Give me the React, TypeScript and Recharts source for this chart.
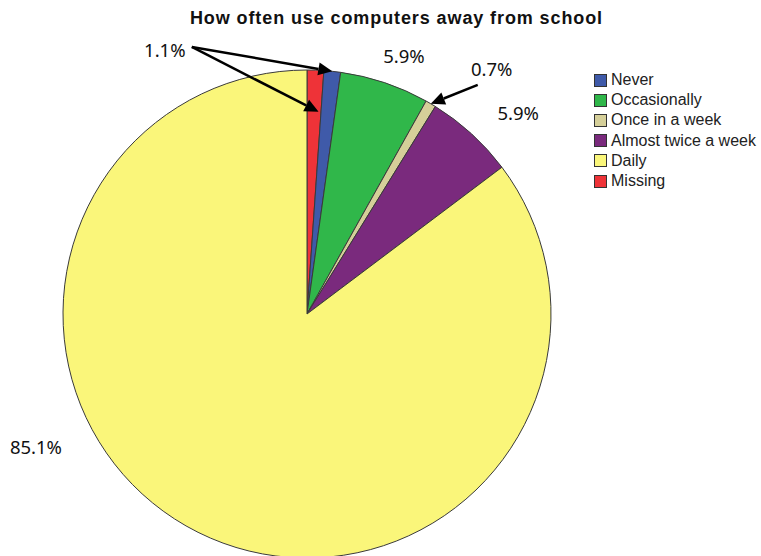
import { PieChart, Pie, Cell, Legend } from 'recharts';

const categories = ['Never', 'Occasionally', 'Once in a week', 'Almost twice a week', 'Daily', 'Missing'];
const percents = [1.1, 5.9, 0.7, 5.9, 85.1, 1.1];
const colors = ['#3f5aa9', '#30b74a', '#d5cf99', '#7a2a7d', '#faf67a', '#ee3338'];

// SPSS puts the Missing slice first at 12 o'clock, then goes clockwise
const pieOrder = [5, 0, 1, 2, 3, 4];

const pieData = pieOrder.map(i => ({ name: categories[i], value: percents[i], color: colors[i] }));

// where the percentage text sits: angle clockwise from top (deg), distance as fraction of radius
const labelSpots: Record<string, { angle: number; dist: number }> = {
  Missing: { angle: 331.7, dist: 1.229 },
  Occasionally: { angle: 20.6, dist: 1.13 },
  'Once in a week': { angle: 37, dist: 1.258 },
  'Almost twice a week': { angle: 46.3, dist: 1.197 },
  Daily: { angle: 243.9, dist: 1.237 },
};

// callout arrows: start next to a label's text, end on a slice
const arrows = [
  { label: 'Missing', to: 'Never', dx: 27, dy: -3, tip: 1.0, turn: 0 },
  { label: 'Missing', to: 'Missing', dx: 27, dy: -3, tip: 0.83, turn: 1.3 },
  { label: 'Once in a week', to: 'Once in a week', dx: -14, dy: 16, tip: 1.0, turn: 0 },
];

const polar = (cx: number, cy: number, r: number, deg: number) => {
  const a = (deg * Math.PI) / 180;
  return { x: cx + r * Math.sin(a), y: cy - r * Math.cos(a) };
};

function Arrow({ x1, y1, x2, y2 }: { x1: number; y1: number; x2: number; y2: number }) {
  const len = Math.hypot(x2 - x1, y2 - y1);
  const ux = (x2 - x1) / len;
  const uy = (y2 - y1) / len;
  const hl = 14;
  const hw = 6.5;
  const bx = x2 - ux * hl;
  const by = y2 - uy * hl;
  return (
    <g>
      <line x1={x1} y1={y1} x2={bx} y2={by} stroke="#000" strokeWidth={2.5} />
      <polygon
        points={`${x2},${y2} ${bx - uy * hw},${by + ux * hw} ${bx + uy * hw},${by - ux * hw}`}
        fill="#000"
      />
    </g>
  );
}

const renderLabel = (props: any) => {
  const { cx, cy, outerRadius, midAngle, index } = props;
  const entry = pieData[index];
  const cw = 90 - midAngle;
  const spot = labelSpots[entry.name];
  const parts: any[] = [];
  if (spot) {
    const p = polar(cx, cy, outerRadius * spot.dist, spot.angle);
    parts.push(
      <text
        key="t"
        x={p.x}
        y={p.y}
        textAnchor="middle"
        dominantBaseline="central"
        fontFamily="'Noto Sans', sans-serif"
        fontSize={18.5}
        fill="#111"
      >
        {`${entry.value.toFixed(1)}%`}
      </text>
    );
  }
  arrows
    .filter(a => a.to === entry.name)
    .forEach((a, k) => {
      const s = labelSpots[a.label];
      const p = polar(cx, cy, outerRadius * s.dist, s.angle);
      const tip = polar(cx, cy, outerRadius * a.tip, cw + a.turn);
      parts.push(<Arrow key={`a${k}`} x1={p.x + a.dx} y1={p.y + a.dy} x2={tip.x} y2={tip.y} />);
    });
  return <g>{parts}</g>;
};

function LegendBox() {
  return (
    <div style={{ fontFamily: "'Liberation Sans', Arial, sans-serif", fontSize: 16, color: '#222' }}>
      {categories.map((c, i) => (
        <div key={c} style={{ display: 'flex', alignItems: 'center', height: 20.2 }}>
          <span
            style={{
              display: 'inline-block',
              width: 13,
              height: 13,
              background: colors[i],
              border: '1px solid #333',
              marginRight: 4,
              boxSizing: 'border-box',
            }}
          />
          <span>{c}</span>
        </div>
      ))}
    </div>
  );
}

export default function App() {
  return (
    <div style={{ position: 'absolute', left: 0, top: 0, width: 761, height: 556, background: '#fff', overflow: 'hidden' }}>
      <div
        style={{
          position: 'absolute',
          left: 0,
          width: 793,
          top: 8,
          textAlign: 'center',
          fontFamily: "'Liberation Sans', Arial, sans-serif",
          fontWeight: 'bold',
          fontSize: 18,
          letterSpacing: 0.9,
          color: '#111',
          zIndex: 2,
        }}
      >
        How often use computers away from school
      </div>
      <PieChart width={761} height={556} margin={{ top: 0, right: 0, bottom: 0, left: 0 }}>
        <Pie
          data={pieData}
          dataKey="value"
          nameKey="name"
          cx={307}
          cy={314}
          outerRadius={244}
          startAngle={90}
          endAngle={-270}
          stroke="#3a3a3a"
          strokeWidth={1}
          labelLine={false}
          label={renderLabel}
          isAnimationActive={false}
        >
          {pieData.map(d => (
            <Cell key={d.name} fill={d.color} />
          ))}
        </Pie>
        <Legend
          content={() => <LegendBox />}
          wrapperStyle={{ position: 'absolute', left: 594, top: 70, width: 167 }}
        />
      </PieChart>
    </div>
  );
}
